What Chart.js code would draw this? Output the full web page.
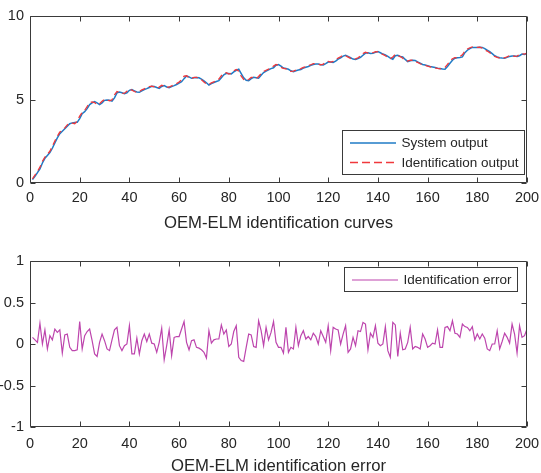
<!DOCTYPE html>
<html>
<head>
<meta charset="utf-8">
<script src="https://cdn.jsdelivr.net/npm/chart.js@4/dist/chart.umd.min.js"></script>
<style>
    html, body { margin: 0; padding: 0; background: #fff; overflow: hidden; }
    #wrap { position: relative; width: 541px; height: 473px; overflow: hidden; }
    canvas { position: absolute; left: 0; }
</style>
</head>
<body>
<div id="wrap">
    <canvas id="curves-chart" width="541" height="240" style="top:0"></canvas>
    <canvas id="error-chart" width="541" height="235" style="top:240px"></canvas>
</div>
<script>
// Datos (muestras 1..200)
const systemOutput = [
    0.20,0.40,0.62,0.85,1.20,1.48,1.65,1.82,2.08,2.40,
    2.70,2.95,3.10,3.25,3.40,3.55,3.60,3.62,3.63,3.85,
    4.15,4.27,4.45,4.70,4.80,4.87,4.80,4.70,4.80,4.95,
    4.97,4.95,4.90,5.10,5.40,5.45,5.40,5.35,5.40,5.55,
    5.59,5.52,5.45,5.43,5.52,5.60,5.65,5.72,5.79,5.78,
    5.72,5.67,5.78,5.83,5.75,5.71,5.77,5.83,5.90,5.98,
    6.07,6.25,6.41,6.35,6.27,6.30,6.32,6.30,6.22,6.12,
    6.00,5.87,5.95,6.02,6.08,6.13,6.30,6.48,6.57,6.55,
    6.53,6.65,6.75,6.81,6.55,6.30,6.15,6.13,6.25,6.33,
    6.30,6.27,6.45,6.61,6.70,6.78,6.85,6.90,7.05,7.09,
    7.00,6.88,6.85,6.81,6.72,6.67,6.72,6.77,6.80,6.88,
    6.93,6.98,7.05,7.10,7.13,7.12,7.08,7.07,7.15,7.24,
    7.25,7.22,7.30,7.42,7.50,7.60,7.65,7.58,7.50,7.42,
    7.40,7.45,7.52,7.65,7.78,7.80,7.76,7.77,7.82,7.87,
    7.80,7.72,7.67,7.58,7.48,7.41,7.62,7.65,7.58,7.55,
    7.40,7.27,7.32,7.35,7.33,7.25,7.18,7.10,7.06,7.02,
    6.98,6.95,6.92,6.87,6.85,6.82,6.81,6.98,7.17,7.35,
    7.47,7.50,7.52,7.55,7.80,7.95,8.05,8.12,8.12,8.12,
    8.13,8.12,8.05,7.95,7.87,7.75,7.62,7.55,7.50,7.48,
    7.47,7.52,7.58,7.61,7.60,7.57,7.62,7.72,7.70,7.75
];

const identificationOutput = [
    0.25,0.48,0.70,0.95,1.30,1.55,1.72,1.90,2.20,2.52,
    2.80,3.05,3.15,3.30,3.48,3.60,3.58,3.55,3.72,4.00,
    4.22,4.35,4.58,4.80,4.85,4.82,4.68,4.75,4.90,5.00,
    4.98,4.92,4.98,5.28,5.48,5.42,5.36,5.38,5.50,5.62,
    5.56,5.48,5.42,5.48,5.58,5.64,5.70,5.77,5.80,5.75,
    5.68,5.74,5.85,5.80,5.72,5.75,5.82,5.88,5.95,6.05,
    6.18,6.40,6.42,6.30,6.25,6.32,6.33,6.27,6.18,6.05,
    5.92,5.90,6.00,6.06,6.12,6.22,6.42,6.58,6.60,6.52,
    6.58,6.72,6.80,6.70,6.40,6.20,6.12,6.20,6.32,6.32,
    6.26,6.38,6.55,6.68,6.75,6.82,6.90,7.00,7.10,7.05,
    6.92,6.86,6.84,6.75,6.68,6.70,6.76,6.80,6.85,6.92,
    6.96,7.03,7.08,7.15,7.14,7.10,7.08,7.12,7.22,7.28,
    7.24,7.28,7.38,7.48,7.56,7.66,7.62,7.54,7.46,7.40,
    7.43,7.50,7.60,7.75,7.83,7.78,7.75,7.80,7.86,7.85,
    7.76,7.70,7.62,7.52,7.45,7.55,7.70,7.62,7.57,7.47,
    7.32,7.30,7.36,7.35,7.28,7.22,7.14,7.08,7.05,7.00,
    6.96,6.93,6.90,6.86,6.84,6.88,6.92,7.10,7.30,7.44,
    7.50,7.52,7.56,7.68,7.90,8.02,8.10,8.15,8.14,8.12,
    8.14,8.08,7.98,7.90,7.80,7.68,7.58,7.52,7.48,7.47,
    7.50,7.56,7.62,7.63,7.58,7.60,7.70,7.74,7.72,7.78
];

const identificationError = [
    0.08,0.05,0.02,0.25,0.00,0.17,-0.06,0.10,0.05,0.18,
    0.14,0.17,-0.11,0.11,0.12,-0.04,-0.08,-0.08,-0.07,0.27,
    -0.06,0.10,0.15,0.18,0.04,-0.12,-0.15,0.02,0.12,0.04,
    -0.06,-0.08,0.05,0.17,0.20,-0.02,-0.08,-0.02,0.00,0.22,
    -0.12,-0.12,0.07,-0.12,0.04,0.12,0.03,0.12,0.01,0.00,
    -0.10,0.02,0.19,-0.19,-0.02,0.17,-0.14,0.08,0.09,0.09,
    0.18,0.27,0.02,-0.07,0.04,0.05,-0.04,-0.05,-0.07,-0.10,
    -0.17,0.16,0.01,0.05,0.06,0.06,0.23,0.12,0.17,-0.03,
    0.00,0.15,0.22,-0.16,-0.20,-0.21,-0.04,0.12,0.11,-0.03,
    -0.04,0.28,0.16,-0.02,0.20,0.05,0.14,0.27,0.02,-0.04,
    -0.04,-0.11,0.20,-0.10,-0.04,-0.06,0.20,-0.02,0.10,0.16,
    0.06,0.09,0.05,0.13,0.09,0.00,0.16,0.09,0.02,0.22,
    -0.08,0.20,0.18,0.17,0.00,0.12,0.22,-0.10,-0.06,0.08,
    -0.02,0.16,0.15,0.26,0.24,-0.07,0.13,0.08,0.22,0.01,
    -0.02,0.00,0.21,-0.08,-0.16,0.26,0.23,-0.15,0.13,-0.07,
    -0.06,0.02,0.20,-0.06,-0.03,-0.04,-0.06,0.12,0.06,-0.04,
    -0.02,0.01,0.00,0.17,-0.04,-0.04,0.20,0.21,0.16,0.28,
    0.13,0.12,0.08,0.24,0.21,0.20,0.16,0.21,0.05,0.12,
    0.06,0.12,0.07,-0.06,-0.08,0.00,0.00,0.16,-0.06,0.03,
    0.13,0.08,0.01,0.24,0.12,-0.11,0.22,0.08,0.10,0.18
];

const seriesLabels = ['System output', 'Identification output', 'Identification error'];
const axisTitles = ['OEM-ELM identification curves', 'OEM-ELM identification error'];

// índice de muestra k = 1..200
const sampleIdx = systemOutput.map((_, i) => i + 1);
const toPoints = arr => arr.map((v, i) => ({ x: sampleIdx[i], y: v }));

const FONT = "'Liberation Sans', Arial, Helvetica, sans-serif";
const AXIS_COLOR = '#3a3a3a';
const TEXT_COLOR = '#262626';

Chart.defaults.font.family = FONT;
Chart.defaults.color = TEXT_COLOR;

// Caja estilo MATLAB con marcas hacia dentro
const matlabAxes = {
    id: 'matlabAxes',
    afterDraw(chart) {
        const { ctx, chartArea: a, scales } = chart;
        const L = Math.round(a.left) + 0.5, R = Math.round(a.right) - 0.5;
        const T = Math.round(a.top) + 0.5, B = Math.round(a.bottom) - 0.5;
        ctx.save();
        ctx.strokeStyle = AXIS_COLOR;
        ctx.lineWidth = 1;
        ctx.beginPath();
        scales.x.ticks.forEach(t => {
            const px = Math.round(scales.x.getPixelForValue(t.value)) + 0.5;
            ctx.moveTo(px, B); ctx.lineTo(px, B - 5);
            ctx.moveTo(px, T); ctx.lineTo(px, T + 5);
        });
        scales.y.ticks.forEach(t => {
            const py = Math.round(scales.y.getPixelForValue(t.value)) + 0.5;
            ctx.moveTo(L, py); ctx.lineTo(L + 5, py);
            ctx.moveTo(R, py); ctx.lineTo(R - 5, py);
        });
        ctx.rect(L, T, R - L, B - T);
        ctx.stroke();
        ctx.restore();
    }
};

// Leyenda dentro del área de trazado
const boxLegend = {
    id: 'boxLegend',
    afterDraw(chart, args, opts) {
        const ctx = chart.ctx;
        ctx.save();
        ctx.fillStyle = '#fff';
        ctx.fillRect(opts.x, opts.y, opts.w, opts.h);
        ctx.strokeStyle = AXIS_COLOR;
        ctx.lineWidth = 1;
        ctx.strokeRect(opts.x + 0.5, opts.y + 0.5, opts.w, opts.h);
        ctx.font = '13.5px ' + FONT;
        ctx.textBaseline = 'middle';
        ctx.fillStyle = TEXT_COLOR;
        chart.data.datasets.forEach((ds, i) => {
            const cy = opts.y + 13 + i * 19.5;
            ctx.strokeStyle = ds.borderColor;
            ctx.lineWidth = ds.borderWidth;
            ctx.setLineDash(ds.borderDash ? [8, 4] : []);
            ctx.beginPath();
            ctx.moveTo(opts.x + 8, cy);
            ctx.lineTo(opts.x + 54, cy);
            ctx.stroke();
            ctx.setLineDash([]);
            ctx.fillText(ds.label, opts.x + 59.5, cy + 0.5);
        });
        ctx.restore();
    }
};

function makeScales(yMin, yMax, yStep, title, xHeight, tickPad, titlePad) {
    return {
        x: {
            type: 'linear', min: 0, max: 200,
            grid: { display: false, drawTicks: false },
            border: { display: false },
            ticks: { stepSize: 20, padding: tickPad, font: { size: 14.5 }, color: TEXT_COLOR, maxRotation: 0 },
            title: { display: true, text: title, color: TEXT_COLOR,
                     font: { size: 16.7, lineHeight: 1 }, padding: { top: 0, bottom: titlePad } },
            afterFit: s => { s.height = xHeight; s.paddingLeft = 0; s.paddingRight = 0; }
        },
        y: {
            min: yMin, max: yMax,
            grid: { display: false, drawTicks: false },
            border: { display: false },
            ticks: { stepSize: yStep, padding: 6, font: { size: 14.5 }, color: TEXT_COLOR,
                     callback: v => String(v) },
            afterFit: s => { s.width = 30; s.paddingTop = 0; s.paddingBottom = 0; }
        }
    };
}

new Chart(document.getElementById('curves-chart'), {
    type: 'line',
    data: {
        datasets: [{
            label: seriesLabels[0],
            data: toPoints(systemOutput),
            borderColor: '#1f7bc6',
            borderWidth: 1.5,
            pointRadius: 0,
            tension: 0,
            order: 1
        }, {
            label: seriesLabels[1],
            data: toPoints(identificationOutput),
            borderColor: '#f0383c',
            borderWidth: 1.3,
            borderDash: [6, 4],
            pointRadius: 0,
            tension: 0,
            order: 0
        }]
    },
    options: {
        responsive: false,
        animation: false,
        devicePixelRatio: 1,
        layout: { padding: { top: 16, right: 14, left: 0, bottom: 0 } },
        scales: makeScales(0, 10, 5, axisTitles[0], 57, 6, 8),
        plugins: {
            legend: { display: false },
            tooltip: { enabled: false },
            boxLegend: { x: 342, y: 130, w: 182, h: 44 }
        }
    },
    plugins: [matlabAxes, boxLegend]
});

new Chart(document.getElementById('error-chart'), {
    type: 'line',
    data: {
        datasets: [{
            label: seriesLabels[2],
            data: toPoints(identificationError),
            borderColor: '#bd45ad',
            borderWidth: 1.2,
            pointRadius: 0,
            tension: 0
        }]
    },
    options: {
        responsive: false,
        animation: false,
        devicePixelRatio: 1,
        layout: { padding: { top: 21, right: 14, left: 0, bottom: 0 } },
        scales: makeScales(-1, 1, 0.5, axisTitles[1], 48, 8, 0),
        plugins: {
            legend: { display: false },
            tooltip: { enabled: false },
            boxLegend: { x: 344, y: 27, w: 173, h: 24 }
        }
    },
    plugins: [matlabAxes, boxLegend]
});
</script>
</body>
</html>
